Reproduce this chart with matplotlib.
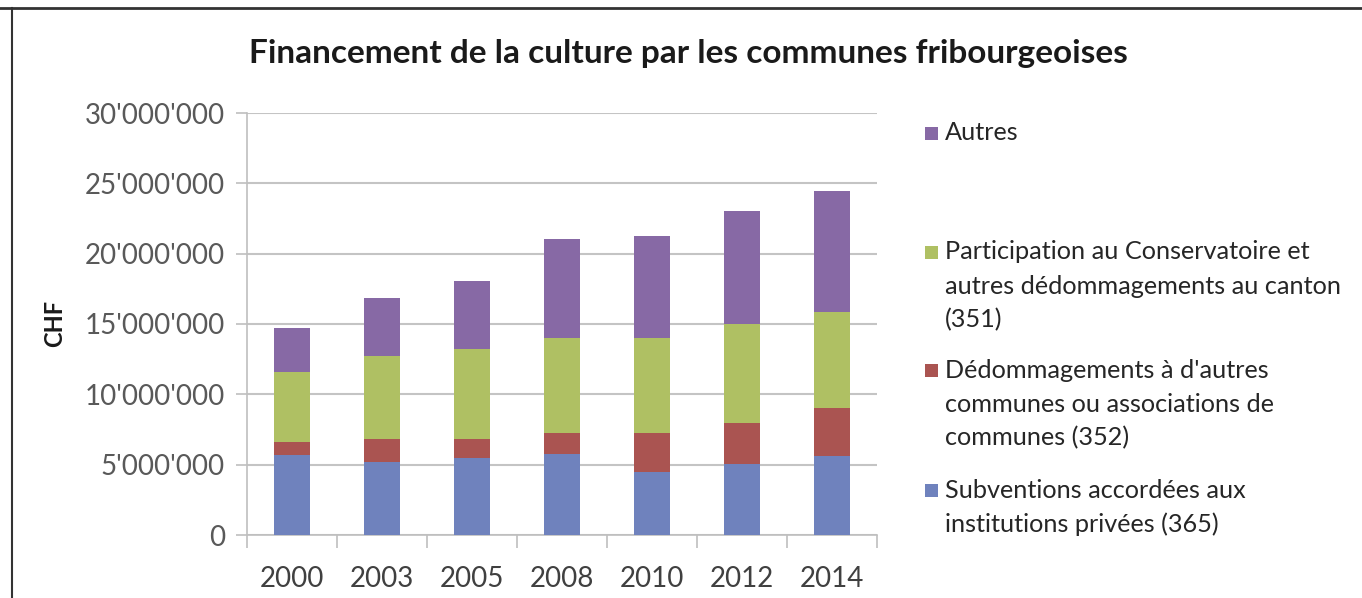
import matplotlib
matplotlib.use("Agg")
import matplotlib.pyplot as plt
from matplotlib.patches import Rectangle
from matplotlib.lines import Line2D
import numpy as np

years = ["2000", "2003", "2005", "2008", "2010", "2012", "2014"]
subventions = [5.66e6, 5.18e6, 5.49e6, 5.78e6, 4.46e6, 5.07e6, 5.61e6]
dedommagements_communes = [0.94e6, 1.63e6, 1.32e6, 1.46e6, 2.78e6, 2.90e6, 3.39e6]
participation_canton = [5.00e6, 5.94e6, 6.44e6, 6.79e6, 6.79e6, 7.05e6, 6.84e6]
autres = [3.09e6, 4.13e6, 4.83e6, 7.00e6, 7.21e6, 8.01e6, 8.61e6]

series = [
    ("Subventions accordées aux\ninstitutions privées (365)", subventions, "#6F82BD"),
    ("Dédommagements à d'autres\ncommunes ou associations de\ncommunes (352)", dedommagements_communes, "#AA5451"),
    ("Participation au Conservatoire et\nautres dédommagements au canton\n(351)", participation_canton, "#AFC063"),
    ("Autres", autres, "#8769A5"),
]
yticks = [0, 5e6, 10e6, 15e6, 20e6, 25e6, 30e6]
ytick_labels = ["0", "5'000'000", "10'000'000", "15'000'000", "20'000'000", "25'000'000", "30'000'000"]

FONT = ["Lato", "DejaVu Sans"]
plt.rcParams['font.family'] = FONT

W, H = 1362, 598
fig = plt.figure(figsize=(W / 100, H / 100), dpi=100)
fig.patch.set_facecolor("white")

ax = fig.add_axes([247 / W, 1 - 535 / H, 630 / W, (535 - 113) / H])
x = np.arange(len(years))
bottom = np.zeros(len(years))
for label, vals, color in series:
    ax.bar(x, vals, width=0.4, bottom=bottom, color=color, edgecolor="none", zorder=3)
    bottom += np.array(vals)

ax.set_xlim(-0.5, len(years) - 0.5)
ax.set_ylim(0, 30e6)
ax.set_yticks(yticks)
ax.set_yticklabels(ytick_labels, fontsize=20, color="#595959")
ax.set_xticks(x)
ax.set_xticklabels(years, fontsize=20, color="#404040")
ax.tick_params(axis="x", length=0, pad=22)
ax.tick_params(axis="y", length=8, width=1.2, color="#BFBFBF", pad=8)
# tick marks between categories on x
ax.set_xticks(np.arange(-0.5, len(years), 1.0), minor=True)
ax.tick_params(axis="x", which="minor", length=9, width=1.2, color="#BFBFBF")
ax.grid(axis="y", color="#C4C4C4", linewidth=1.5, zorder=0)
for s in ["top", "right"]:
    ax.spines[s].set_visible(False)
ax.spines["left"].set_color("#BFBFBF")
ax.spines["left"].set_linewidth(1.2)
ax.spines["bottom"].set_color("#BFBFBF")
ax.spines["bottom"].set_linewidth(1.2)

fig.text(688 / W, 1 - 53 / H, "Financement de la culture par les communes fribourgeoises",
         ha="center", va="center", fontsize=24, fontweight="bold", color="#1a1a1a")
fig.text(55 / W, 1 - 323 / H, "CHF", rotation=90, ha="center", va="center",
         fontsize=17, fontweight="bold", color="#1a1a1a")

# legend (drawn in reverse order, Excel style)
legend_tops = [490, 370, 252, 133]
for (label, vals, color), ytop in zip(series, legend_tops):
    fig.patches.append(Rectangle((925 / W, 1 - (ytop + 7) / H), 13 / W, 13 / H,
                                 transform=fig.transFigure, facecolor=color, edgecolor="none"))
    lines = label.split("\n")
    for i, ln in enumerate(lines):
        fig.text(945 / W, 1 - (ytop + 34 * i) / H, ln, ha="left", va="center",
                 fontsize=18.2, color="#262626")

# frame lines
fig.add_artist(Line2D([0, 1], [1 - 7.5 / H, 1 - 7.5 / H], transform=fig.transFigure,
                      color="#333333", linewidth=2))
fig.add_artist(Line2D([12 / W, 12 / W], [0, 1 - 7.5 / H], transform=fig.transFigure,
                      color="#333333", linewidth=1.5))

fig.savefig("out.png", dpi=100)
